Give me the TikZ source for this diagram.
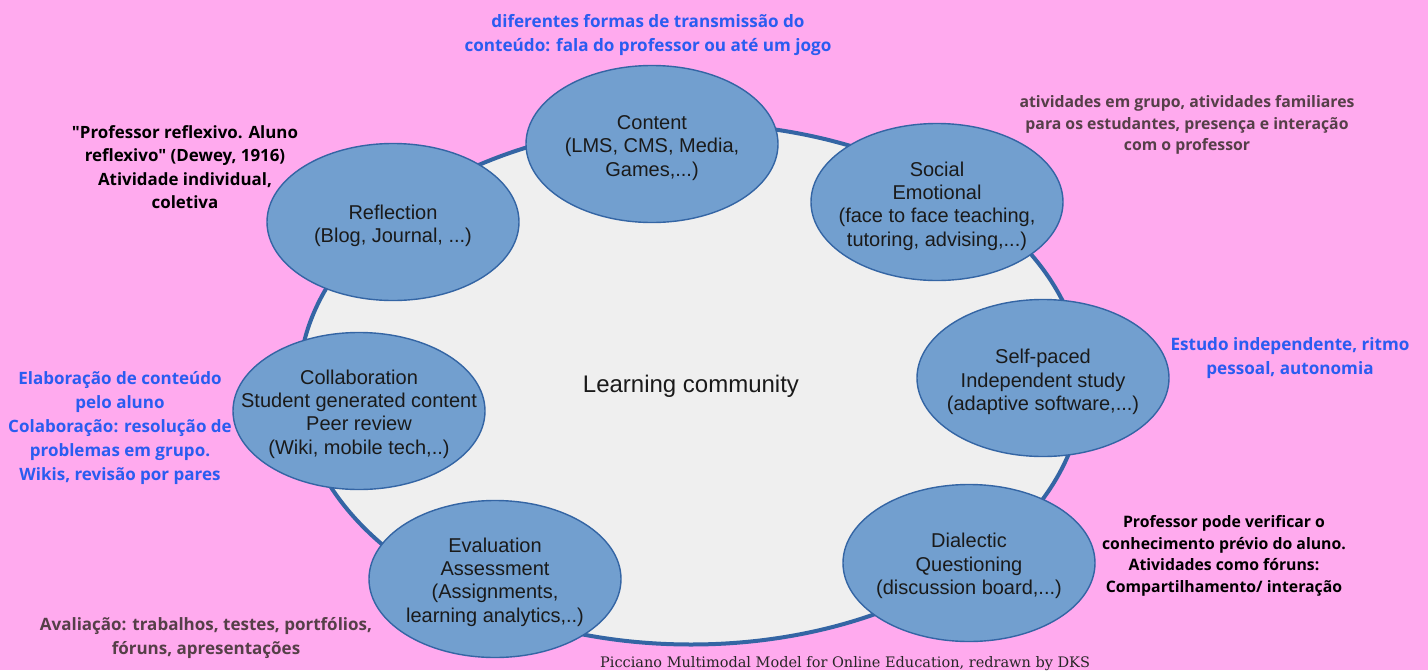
\documentclass[tikz,border=0pt]{standalone}
\usepackage{fontspec}
\setmainfont{Liberation Sans}
\newfontfamily\notob{Open Sans}
\newfontfamily\capfont{DejaVu Serif}
\usetikzlibrary{shapes.geometric}
\definecolor{bgpink}{HTML}{FFAAEE}
\definecolor{edgeblue}{HTML}{3465A4}
\definecolor{bubblue}{HTML}{729FCF}
\definecolor{lcfill}{HTML}{EFEFEF}
\definecolor{noteblue}{HTML}{2A5CF0}
\definecolor{notegray}{HTML}{553F48}
\definecolor{txtdark}{HTML}{1A1A1A}
\begin{document}
\begin{tikzpicture}[x=1pt,y=-1pt,
  bub/.style={ellipse, draw=edgeblue, fill=bubblue, line width=1.4pt, minimum width=252pt, minimum height=157pt, inner sep=0pt},
  btxt/.style={align=center, font=\fontsize{20}{23.3}\selectfont, text=txtdark, inner sep=0pt},
  note/.style={align=center, font=\notob\bfseries\fontsize{17.1}{23.5}\selectfont, inner sep=0pt},
  notesm/.style={align=center, font=\notob\bfseries\fontsize{15.8}{21.5}\selectfont, inner sep=0pt}]
\fill[bgpink] (0,0) rectangle (1428,670);
\useasboundingbox (0,0) rectangle (1428,670);
% big ellipse
\node[ellipse, draw=edgeblue, fill=lcfill, line width=4pt, minimum width=784pt, minimum height=521pt, inner sep=0pt] (lc) at (691,384) {};
\node[btxt, font=\fontsize{24}{27}\selectfont] (lct) at (691,386) {Learning community};
% bubbles
\node[bub] (content) at (652,144) {};
\node[btxt] (contentt) at ([yshift=-4pt]content.center) {Content\\(LMS, CMS, Media,\\Games,...)};
\node[bub] (social) at (937,202) {};
\node[btxt] (socialt) at ([yshift=-4pt]social.center) {Social\\Emotional\\(face to face teaching,\\tutoring, advising,...)};
\node[bub] (refl) at (393,222) {};
\node[btxt] (reflt) at ([yshift=-4pt]refl.center) {Reflection\\(Blog, Journal, ...)};
\node[bub] (self) at (1043,378) {};
\node[btxt] (selft) at ([yshift=-4pt]self.center) {Self-paced\\Independent study\\(adaptive software,...)};
\node[bub] (coll) at (359,411) {};
\node[btxt] (collt) at ([yshift=-3pt]coll.center) {Collaboration\\Student generated content\\Peer review\\(Wiki, mobile tech,..)};
\node[bub] (dial) at (969,563) {};
\node[btxt] (dialt) at ([yshift=-3pt]dial.center) {Dialectic\\Questioning\\(discussion board,...)};
\node[bub] (eval) at (495,579) {};
\node[btxt] (evalt) at ([yshift=-3pt]eval.center) {Evaluation\\Assessment\\(Assignments,\\learning analytics,..)};
% notes
\node[note, text=noteblue] (n1) at (648,35) {diferentes formas de transmissão do\\conteúdo: fala do professor ou até um jogo};
\node[notesm, text=notegray] (n2) at (1187,125) {atividades em grupo, atividades familiares\\para os estudantes, presença e interação\\com o professor};
\node[note, text=black, font=\notob\bfseries\fontsize{16.9}{23.5}\selectfont] (n3) at (185,167) {"Professor reflexivo. Aluno\\reflexivo" (Dewey, 1916)\\Atividade individual,\\coletiva};
\node[note, text=noteblue, font=\notob\bfseries\fontsize{17}{23.8}\selectfont] (n4) at (120,428) {Elaboração de conteúdo\\pelo aluno\\Colaboração: resolução de\\problemas em grupo.\\Wikis, revisão por pares};
\node[note, text=noteblue, font=\notob\bfseries\fontsize{17.1}{23.8}\selectfont] (n5) at (1290,358) {Estudo independente, ritmo\\pessoal, autonomia};
\node[notesm, text=black, font=\notob\bfseries\fontsize{15.8}{21.5}\selectfont] (n6) at (1224,556) {Professor pode verificar o\\conhecimento prévio do aluno.\\Atividades como fóruns:\\Compartilhamento/ interação};
\node[note, text=notegray, font=\notob\bfseries\fontsize{17}{24.5}\selectfont] (n7) at (206,638) {Avaliação: trabalhos, testes, portfólios,\\fóruns, apresentações};
\node[anchor=base west, inner sep=0pt, text=black!85, font=\capfont\fontsize{14.5}{17}\selectfont] (cap) at (600,667) {Picciano Multimodal Model for Online Education, redrawn by DKS};
\end{tikzpicture}
\end{document}
